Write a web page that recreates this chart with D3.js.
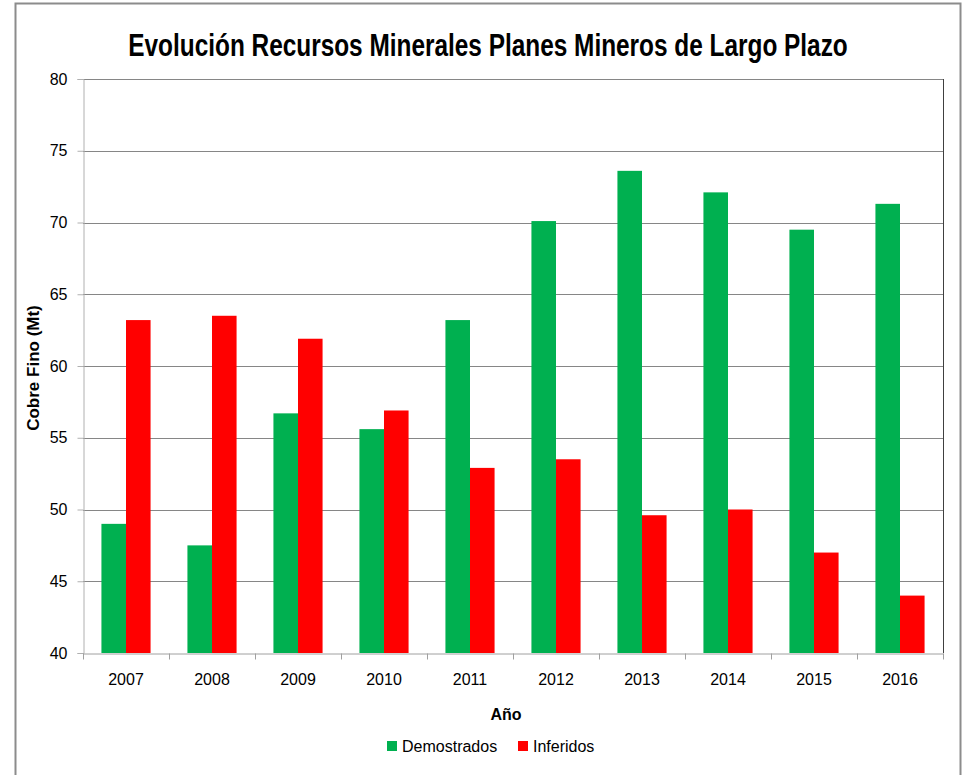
<!DOCTYPE html>
<html>
<head>
<meta charset="utf-8">
<script src="https://cdn.jsdelivr.net/npm/d3@7"></script>
<style>
  html, body { margin: 0; padding: 0; background: #fff; }
  svg { display: block; }
</style>
</head>
<body>
<script>
const years = ["2007","2008","2009","2010","2011","2012","2013","2014","2015","2016"];
const demostrados = [49.0, 47.5, 56.7, 55.6, 63.2, 70.1, 73.6, 72.1, 69.5, 71.3];
const inferidos   = [63.2, 63.5, 61.9, 56.9, 52.9, 53.5, 49.6, 50.0, 47.0, 44.0];
const seriesNames = ["Demostrados", "Inferidos"];
const seriesColors = ["#00B050", "#FF0000"];
const yTicks = [40, 45, 50, 55, 60, 65, 70, 75, 80];

const W = 963, H = 775;
const plot = { left: 83, top: 79, right: 943, bottom: 653 };

const svg = d3.select("body").append("svg").attr("width", W).attr("height", H);
const font = "'Liberation Sans', Arial, sans-serif";

// outer chart border
svg.append("rect").attr("x", 15.5).attr("y", 3.5).attr("width", 945).attr("height", 790)
  .attr("fill", "#fff").attr("stroke", "#8c8c8c").attr("stroke-width", 2);

const x = d3.scaleBand().domain(years).range([plot.left, plot.right]).paddingInner(0).paddingOuter(0);
const y = d3.scaleLinear().domain([40, 80]).range([plot.bottom, plot.top]);
const barW = x.bandwidth() / 3.5;
const xs = d3.scaleBand().domain(seriesNames).range([0, barW * 2]);

// gridlines
svg.append("g").selectAll("line").data(yTicks.filter(t => t > 40)).join("line")
  .attr("x1", plot.left).attr("x2", plot.right)
  .attr("y1", d => Math.round(y(d)) + 0.5).attr("y2", d => Math.round(y(d)) + 0.5)
  .attr("stroke", "#868686").attr("stroke-width", 1);

// bars
const data = years.map((yr, i) => ({ year: yr, vals: [demostrados[i], inferidos[i]] }));
const groups = svg.append("g").selectAll("g").data(data).join("g")
  .attr("transform", d => `translate(${x(d.year) + (x.bandwidth() - barW * 2) / 2},0)`);
groups.selectAll("rect").data(d => d.vals.map((v, j) => ({ v, j })))
  .join("rect")
  .attr("x", d => xs(seriesNames[d.j]))
  .attr("width", xs.bandwidth())
  .attr("y", d => y(d.v))
  .attr("height", d => y(40) - y(d.v))
  .attr("fill", d => seriesColors[d.j]);

// plot right border
svg.append("line").attr("x1", plot.right + 0.5).attr("x2", plot.right + 0.5)
  .attr("y1", plot.top).attr("y2", plot.bottom).attr("stroke", "#404040").attr("stroke-width", 1);

// y axis
const yAxis = d3.axisLeft(y).tickValues(yTicks).tickSize(6).tickPadding(10);
const gy = svg.append("g").attr("transform", `translate(${plot.left + 0.5},0)`).call(yAxis);
gy.select(".domain").attr("stroke", "#b0b0b0");
gy.selectAll(".tick line").attr("stroke", "#b0b0b0");
gy.selectAll(".tick text").attr("font-family", font).attr("font-size", 16).attr("fill", "#000");

// x axis
const xAxis = d3.axisBottom(x).tickSize(0).tickPadding(20);
const gx = svg.append("g").attr("transform", `translate(0,${plot.bottom + 0.5})`).call(xAxis);
gx.select(".domain").attr("stroke", "#a0a0a0");
gx.selectAll(".tick text").attr("font-family", font).attr("font-size", 16).attr("fill", "#000");
// boundary ticks
const bounds = years.map(yr => x(yr)).concat([plot.right]);
gx.append("g").selectAll("line").data(bounds).join("line")
  .attr("x1", d => Math.round(d) + 0.5).attr("x2", d => Math.round(d) + 0.5)
  .attr("y1", 0).attr("y2", 6).attr("stroke", "#a0a0a0");

// title: full-height glyphs, horizontally condensed to the reference width
const titleG = svg.append("g");
const title = titleG.append("text").attr("x", 0).attr("y", 0).attr("text-anchor", "middle")
  .attr("font-family", font).attr("font-weight", "bold").attr("font-size", 31)
  .text("Evolución Recursos Minerales Planes Mineros de Largo Plazo");
const tw = title.node().getComputedTextLength();
const sx = tw > 0 ? 720 / tw : 1;
titleG.attr("transform", `translate(488,56) scale(${sx},1)`);

// y axis title
svg.append("text").attr("transform", "translate(39,368) rotate(-90)")
  .attr("text-anchor", "middle").attr("font-family", font).attr("font-weight", "bold")
  .attr("font-size", 17).text("Cobre Fino (Mt)");

// x axis title
svg.append("text").attr("x", 506).attr("y", 720).attr("text-anchor", "middle")
  .attr("font-family", font).attr("font-weight", "bold").attr("font-size", 16).text("Año");

// legend
const legendItems = [{ name: seriesNames[0], color: seriesColors[0], x: 387 },
                     { name: seriesNames[1], color: seriesColors[1], x: 518 }];
const lg = svg.append("g").selectAll("g").data(legendItems).join("g")
  .attr("transform", d => `translate(${d.x},741)`);
lg.append("rect").attr("width", 10).attr("height", 10).attr("fill", d => d.color);
lg.append("text").attr("x", 15).attr("y", 11).attr("font-family", font).attr("font-size", 16)
  .text(d => d.name);
</script>
</body>
</html>
